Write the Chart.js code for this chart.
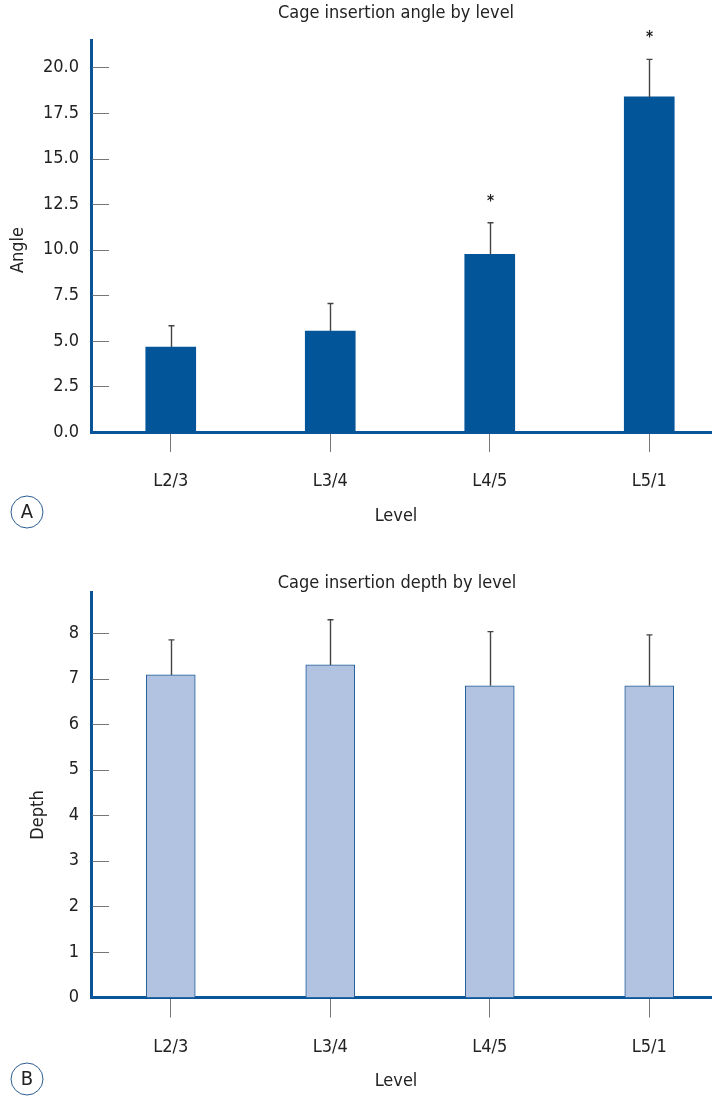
<!DOCTYPE html>
<html>
<head>
<meta charset="utf-8">
<script src="https://cdn.jsdelivr.net/npm/chart.js@4.4.1/dist/chart.umd.min.js"></script>
<style>
    html, body { margin: 0; padding: 0; background: #fff; overflow: hidden; width: 712px; height: 1099px; }
    canvas { position: absolute; left: 0; }
    #angleChart { top: 0; }
    #depthChart { top: 530px; }
</style>
</head>
<body>
<canvas id="angleChart" width="740" height="530"></canvas>
<canvas id="depthChart" width="740" height="569"></canvas>
<script>
// data
const levels = ["L2/3", "L3/4", "L4/5", "L5/1"];

const angleMean = [4.66, 5.54, 9.74, 18.38];
const angleSD = [1.17, 1.51, 1.74, 2.06];
const angleStar = [false, false, true, true];
const angleTicks = [0, 2.5, 5, 7.5, 10, 12.5, 15, 17.5, 20];

const depthMean = [7.08, 7.30, 6.84, 6.84];
const depthSD = [0.77, 0.99, 1.19, 1.12];
const depthStar = [false, false, false, false];
const depthTicks = [0, 1, 2, 3, 4, 5, 6, 7, 8];

const FONT = '"DejaVu Sans Condensed", "Liberation Sans Narrow", sans-serif';
const BLUE = "#0a5599";

function panelPlugin(p) {

    return {

        id: "panel",

        afterDatasetsDraw(chart) {

            const ctx = chart.ctx;
            const y = chart.scales.y;
            const area = chart.chartArea;
            const bars = chart.getDatasetMeta(0).data;

            ctx.save();

            // y tick marks point into the plot
            ctx.strokeStyle = "#777";
            ctx.lineWidth = 1;
            p.ticks.forEach(v => {
                if (v === 0) return;
                const py = Math.round(y.getPixelForValue(v)) + 0.5;
                ctx.beginPath();
                ctx.moveTo(area.left + 1.5, py);
                ctx.lineTo(area.left + 18, py);
                ctx.stroke();
            });

            // upper error bars + significance marks
            ctx.strokeStyle = "#444";
            ctx.lineWidth = 1.4;
            ctx.fillStyle = "#222";
            ctx.font = "bold 15px " + FONT;
            ctx.textAlign = "center";
            ctx.textBaseline = "alphabetic";

            bars.forEach((bar, i) => {
                const top = y.getPixelForValue(p.mean[i] + p.sd[i]);
                const bx = Math.round(bar.x) + 0.5;
                ctx.beginPath();
                ctx.moveTo(bx, bar.y);
                ctx.lineTo(bx, top);
                ctx.moveTo(bx - 3, top);
                ctx.lineTo(bx + 3, top);
                ctx.stroke();
                if (p.star[i]) {
                    ctx.fillText("*", bx, top - 17);
                }
            });

            ctx.restore();
        },

        afterDraw(chart) {

            const ctx = chart.ctx;

            ctx.save();
            ctx.fillStyle = "#222";
            ctx.textAlign = "center";

            ctx.font = "18px " + FONT;
            ctx.textBaseline = "alphabetic";
            ctx.fillText(p.title, p.titleX, p.titleY);

            ctx.textBaseline = "middle";
            ctx.fillText("Level", p.xTitleX, p.xTitleY);

            ctx.save();
            ctx.translate(p.yTitleX, p.yTitleY);
            ctx.rotate(-Math.PI / 2);
            ctx.fillText(p.yTitle, 0, 0);
            ctx.restore();

            // panel letter
            ctx.strokeStyle = "#2b5d90";
            ctx.lineWidth = 1;
            ctx.beginPath();
            ctx.arc(p.letterX, p.letterY, 16, 0, Math.PI * 2);
            ctx.stroke();
            ctx.font = "20px " + FONT;
            ctx.fillText(p.letter, p.letterX, p.letterY + 1);

            ctx.restore();
        }
    };
}

function makeChart(id, p) {

    const canvas = document.getElementById(id);

    return new Chart(canvas, {

        type: "bar",

        data: {
            labels: levels,
            datasets: [{
                data: p.mean,
                backgroundColor: p.fill,
                borderColor: p.edge,
                borderWidth: p.edgeWidth,
                barThickness: p.barWidth
            }]
        },

        options: {

            responsive: false,
            animation: false,

            layout: {
                padding: { top: p.padTop, bottom: p.padBottom, left: 0, right: 11 }
            },

            plugins: {
                legend: { display: false },
                tooltip: { enabled: false }
            },

            scales: {

                x: {
                    offset: true,
                    grid: {
                        display: true,
                        drawOnChartArea: false,
                        drawTicks: true,
                        tickLength: 20,
                        offset: false,
                        color: "#777",
                        lineWidth: 1
                    },
                    border: { display: true, color: BLUE, width: 3 },
                    ticks: {
                        color: "#222",
                        font: { family: FONT, size: 18 },
                        padding: 19,
                        maxRotation: 0
                    },
                    afterFit: s => { s.height = 98; }
                },

                y: {
                    min: 0,
                    max: p.max,
                    grid: { display: false, drawTicks: false },
                    border: { display: true, color: BLUE, width: 3 },
                    ticks: {
                        color: "#222",
                        font: { family: FONT, size: 18 },
                        padding: 12,
                        callback: v => p.fmt(v)
                    },
                    afterBuildTicks: s => { s.ticks = p.ticks.map(v => ({ value: v })); },
                    afterFit: s => { s.width = 91; }
                }
            }
        },

        plugins: [panelPlugin(p)]
    });
}

document.addEventListener("DOMContentLoaded", () => {

    makeChart("angleChart", {
        mean: angleMean,
        sd: angleSD,
        star: angleStar,
        ticks: angleTicks,
        max: 21.5,
        fmt: v => v.toFixed(1),
        fill: "#03559a",
        edge: "#03559a",
        edgeWidth: 0,
        barWidth: 50,
        padTop: 40,
        padBottom: 0,
        title: "Cage insertion angle by level",
        titleX: 396, titleY: 18,
        xTitleX: 396, xTitleY: 516,
        yTitle: "Angle", yTitleX: 18, yTitleY: 250,
        letter: "A", letterX: 27, letterY: 512
    });

    makeChart("depthChart", {
        mean: depthMean,
        sd: depthSD,
        star: depthStar,
        ticks: depthTicks,
        max: 8.9,
        fmt: v => String(v),
        fill: "#b1c3e0",
        edge: "#1c5b98",
        edgeWidth: 1,
        barWidth: 49,
        padTop: 62,
        padBottom: 3.5,
        title: "Cage insertion depth by level",
        titleX: 397, titleY: 58,
        xTitleX: 396, xTitleY: 551,
        yTitle: "Depth", yTitleX: 38, yTitleY: 285,
        letter: "B", letterX: 27, letterY: 549
    });

});
</script>
</body>
</html>
